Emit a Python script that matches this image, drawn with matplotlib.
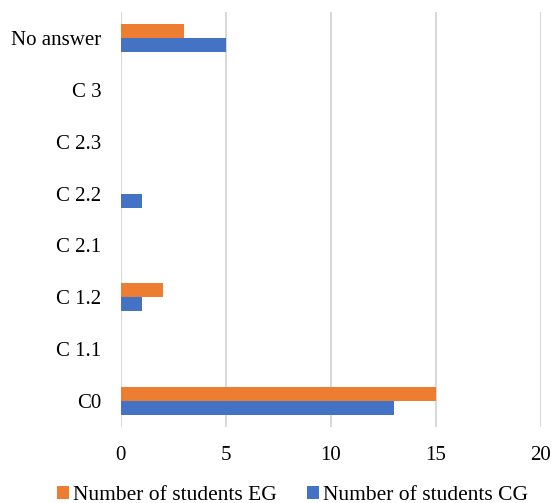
import numpy as np
import matplotlib.pyplot as plt

# Competence levels, bottom to top
categories = ['C0', 'C 1.1', 'C 1.2', 'C 2.1', 'C 2.2', 'C 2.3', 'C 3', 'No answer']
students_eg = [15, 0, 2, 0, 0, 0, 0, 3]
students_cg = [13, 0, 1, 0, 1, 0, 0, 5]
x_ticks = [0, 5, 10, 15, 20]

ORANGE = '#ED7D31'
BLUE = '#4472C4'

plt.rcParams['font.family'] = ['Liberation Serif', 'DejaVu Serif']

fig = plt.figure(figsize=(5.52, 5.03), dpi=100)
ax = fig.add_axes([0.219, 0.151, 0.761, 0.825])

y = np.arange(len(categories))
h = 0.27
ax.barh(y + h / 2, students_eg, h, color=ORANGE, label='Number of students EG', zorder=3)
ax.barh(y - h / 2, students_cg, h, color=BLUE, label='Number of students CG', zorder=3)

ax.set_xlim(0, 20)
ax.set_ylim(-0.5, len(categories) - 0.5)
ax.set_xticks(x_ticks)
ax.set_yticks(y)
ax.set_yticklabels(categories)
ax.tick_params(axis='both', length=0, labelsize=15)
ax.tick_params(axis='y', pad=14)
ax.tick_params(axis='x', pad=13.5)
ax.grid(axis='x', color='#D9D9D9', linewidth=1.5, zorder=0)
ax.set_axisbelow(True)
for s in ax.spines.values():
    s.set_visible(False)

fig.legend(loc='lower center', bbox_to_anchor=(0.53, -0.042), ncol=2, frameon=False,
           fontsize=15.5, handlelength=0.55, handleheight=0.55, handletextpad=0.2,
           columnspacing=1.4)

fig.savefig('out.png', dpi=100)
